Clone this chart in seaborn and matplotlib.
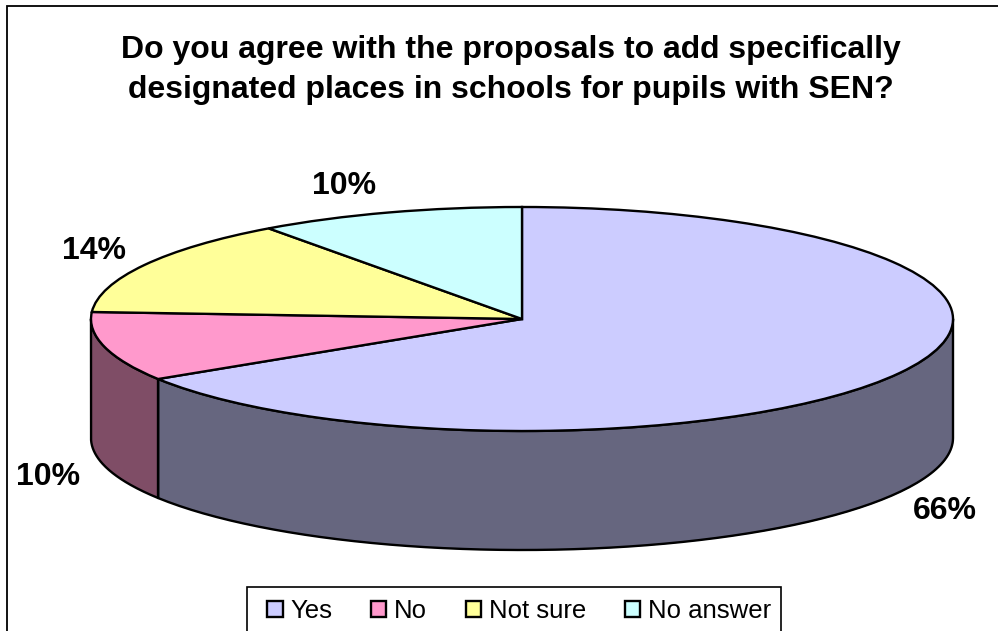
import numpy as np
import matplotlib.pyplot as plt
import seaborn as sns
from matplotlib.patches import Rectangle

# Survey answers
labels = ["Yes", "No", "Not sure", "No answer"]
shares = [66, 10, 14, 10]
colours = ["#CCCCFF", "#FF99CC", "#FFFF99", "#CCFFFF"]
side_colours = ["#66667F", "#7F4D66"]

title = "Do you agree with the proposals to add specifically\ndesignated places in schools for pupils with SEN?"

sns.set_theme(style="white")
plt.rcParams["font.family"] = ["Liberation Sans", "DejaVu Sans"]

W, H = 998, 631
fig = plt.figure(figsize=(W / 100, H / 100), dpi=100, facecolor="white")

# pie axes covers the ellipse box, squashed to look tilted
rx, ry, cx, cy, depth = 431, 112, 522, 319, 119
ax = fig.add_axes([(cx - rx) / W, 1 - (cy + ry) / H, 2 * rx / W, 2 * ry / H])
wedges, _ = ax.pie(shares, colors=colours, startangle=90, counterclock=False, radius=1,
                   wedgeprops={"edgecolor": "black", "linewidth": 1.7})
ax.set_aspect("auto")
ax.set_xlim(-1, 1)
ax.set_ylim(-1, 1)
ax.patch.set_visible(False)

# side wall below the front of the pie, only first two slices can be seen
d = depth / ry
ends = 90 - np.cumsum(shares) / sum(shares) * 360
starts = np.r_[90, ends[:-1]]
for i, col in enumerate(side_colours):
    t = np.radians(np.linspace(np.clip(starts[i], -180, 0), np.clip(ends[i], -180, 0), 120))
    x, y = np.cos(t), np.sin(t)
    ax.fill_between(x, y - d, y, color=col, lw=0, zorder=0, clip_on=False)
    ax.plot(np.r_[x, x[::-1], x[0]], np.r_[y, y[::-1] - d, y[0]], color="black", lw=1.7,
            zorder=0.5, clip_on=False)

# percentage labels
label_xy = [(945, 511), (48, 477), (94, 251), (344, 186)]
for s, (px, py) in zip(shares, label_xy):
    fig.text(px / W, 1 - py / H, f"{s}%", fontsize=23, fontweight="bold", color="black",
             ha="center", va="center")

fig.text(511 / W, 1 - 70 / H, title, fontsize=23, fontweight="bold", color="black",
         ha="center", va="center", linespacing=1.44)

# chart frame, right and bottom edges fall off the picture
fig.add_artist(Rectangle((7 / W, -0.1), 1.1, 1.1 - 6.5 / H, transform=fig.transFigure,
                         fill=False, edgecolor="black", lw=1.3))

# legend box is cut by the bottom of the picture as well
fig.add_artist(Rectangle((247 / W, -0.1), 534 / W, 0.1 + 1 - 587 / H, transform=fig.transFigure,
                         facecolor="white", edgecolor="black", lw=1.2))
leg = fig.legend(wedges, labels, loc="center", bbox_to_anchor=(519 / W, 1 - 611 / H), ncol=4,
                 fontsize=18.5, frameon=False, handlelength=0.6, handleheight=0.6,
                 handletextpad=0.3, columnspacing=1.5, borderpad=0, borderaxespad=0,
                 labelcolor="black")

fig.savefig("out.png", dpi=100)
